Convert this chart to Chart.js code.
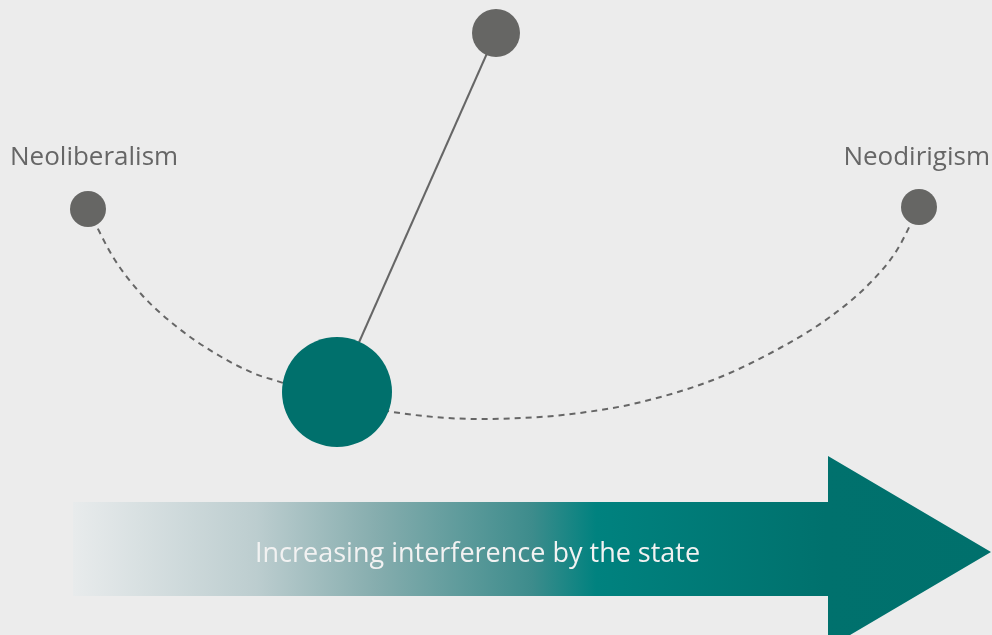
<!DOCTYPE html>
<html>
<head>
<meta charset="utf-8">
<script src="https://cdn.jsdelivr.net/npm/chart.js@4.4.1/dist/chart.umd.min.js"></script>
<style>
  html, body { margin: 0; padding: 0; background: #ececec; }
  #wrap { width: 992px; height: 635px; }
</style>
</head>
<body>
<div id="wrap"><canvas id="pendulumChart" width="992" height="635"></canvas></div>
<script>
// positions (x / y in a 992 x 635 frame)
const arcX = [88, 113, 142, 177, 213, 253, 277, 337, 393, 480, 540, 587, 637, 713, 780, 830, 870, 897, 919];
const arcY = [209, 257, 295, 327, 352, 373, 381, 399, 412, 419, 417, 412, 403, 380, 348, 317, 283, 250, 207];

const pivot = { x: 496, y: 33 };
const bob = { x: 337, y: 392 };
const poles = [{ x: 88, y: 209 }, { x: 919, y: 207 }];
const poleLabels = ['Neoliberalism', 'Neodirigism'];
const arrowLabel = 'Increasing interference by the state';

const ctx = document.getElementById('pendulumChart');

// arrow + texts drawn with the chart's own scales
const arrowPlugin = {
    id: 'arrowPlugin',
    beforeDatasetsDraw(chart) {
        const c = chart.ctx;
        const sx = chart.scales.x, sy = chart.scales.y;
        const px = v => sx.getPixelForValue(v);
        const py = v => sy.getPixelForValue(v);

        const g = c.createLinearGradient(px(73), 0, px(991), 0);
        g.addColorStop(0, 'rgba(232,235,236,1)');
        g.addColorStop(0.2, '#bccdcf');
        g.addColorStop(0.33, '#86adae');
        g.addColorStop(0.5, '#3d8c8c');
        g.addColorStop(0.57, '#00827f');
        g.addColorStop(0.82, '#00716d');
        g.addColorStop(1, '#00706c');
        c.save();
        c.fillStyle = g;
        c.beginPath();
        c.moveTo(px(73), py(502));
        c.lineTo(px(828), py(502));
        c.lineTo(px(828), py(456));
        c.lineTo(px(991), py(552));
        c.lineTo(px(828), py(648));
        c.lineTo(px(828), py(596));
        c.lineTo(px(73), py(596));
        c.closePath();
        c.fill();

        c.fillStyle = '#f2f2f2';
        c.font = '27px "Open Sans", sans-serif';
        c.textBaseline = 'alphabetic';
        c.textAlign = 'left';
        c.fillText(arrowLabel, px(255), py(562));

        c.fillStyle = '#666666';
        c.font = '26px "Open Sans", sans-serif';
        c.fillText(poleLabels[0], px(10), py(165));
        c.textAlign = 'right';
        c.fillText(poleLabels[1], px(990), py(165));
        c.restore();
    }
};

const pendulumChart = new Chart(ctx, {
    type: 'scatter',
    data: {
        datasets: [
            {
                type: 'line',
                data: arcX.map((x, i) => ({ x: x, y: arcY[i] })),
                borderColor: '#666666',
                borderWidth: 2,
                borderDash: [6, 5],
                pointRadius: 0,
                cubicInterpolationMode: 'monotone',
                fill: false,
                order: 5
            },
            {
                type: 'line',
                data: [pivot, bob],
                borderColor: '#666666',
                borderWidth: 2,
                pointRadius: 0,
                fill: false,
                order: 4
            },
            {
                data: poles,
                pointRadius: 18,
                backgroundColor: '#666664',
                borderWidth: 0,
                order: 3
            },
            {
                data: [pivot],
                pointRadius: 24,
                backgroundColor: '#666664',
                borderWidth: 0,
                order: 2
            },
            {
                data: [bob],
                pointRadius: 55,
                backgroundColor: '#00706c',
                borderWidth: 0,
                order: 1
            }
        ]
    },
    options: {
        responsive: false,
        animation: false,
        clip: false,
        layout: { padding: 0, autoPadding: false },
        plugins: { legend: { display: false }, tooltip: { enabled: false } },
        scales: {
            x: { type: 'linear', min: 0, max: 992, display: false },
            y: { type: 'linear', min: 0, max: 635, reverse: true, display: false }
        }
    },
    plugins: [arrowPlugin]
});
</script>
</body>
</html>
